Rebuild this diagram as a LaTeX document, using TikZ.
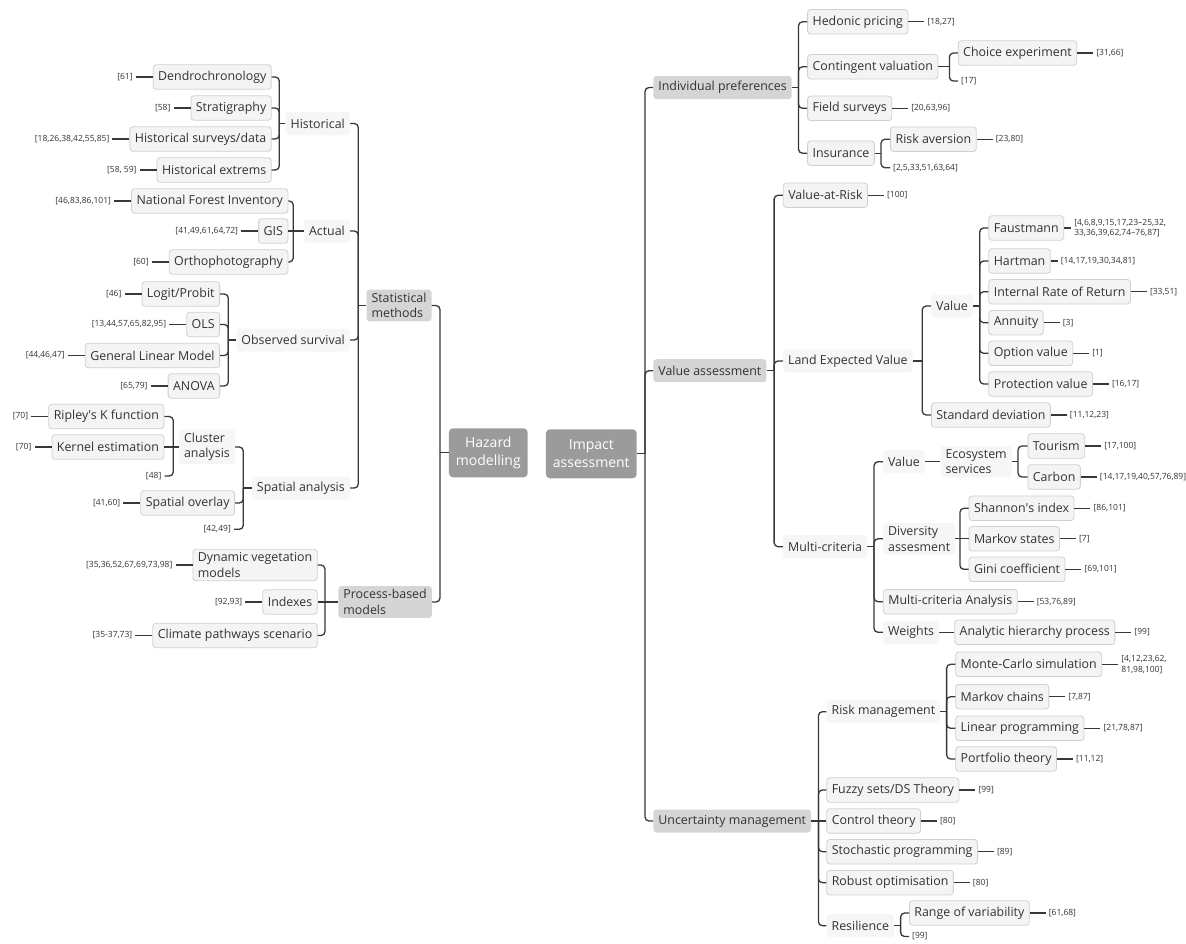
\documentclass[tikz,border=0pt]{standalone}
\usepackage{fontspec}
\setmainfont{Open Sans}
\usetikzlibrary{positioning}
\definecolor{inkgray}{HTML}{333333}
\definecolor{linegray}{HTML}{383838}
\definecolor{rootgray}{HTML}{9B9B9B}
\definecolor{maingray}{HTML}{D5D5D5}
\definecolor{softgray}{HTML}{F6F6F6}
\definecolor{leafgray}{HTML}{F4F4F4}
\definecolor{edgegray}{HTML}{D0D0D0}
\tikzset{
  root/.style={rounded corners=4pt, fill=rootgray, text=white, font=\fontsize{14}{18}\selectfont, align=center, inner xsep=7pt, minimum height=49pt},
  branch/.style={rounded corners=3pt, fill=maingray, text=inkgray, font=\fontsize{12.4}{15.5}\selectfont, align=left, inner xsep=5pt, minimum height=23pt},
  topic/.style={rounded corners=3pt, fill=softgray, text=inkgray, font=\fontsize{12.4}{15.5}\selectfont, align=left, inner xsep=5pt, minimum height=23pt},
  leaf/.style={rounded corners=3pt, draw=edgegray, line width=0.8pt, fill=leafgray, text=inkgray, font=\fontsize{12.4}{15.5}\selectfont, align=left, inner xsep=5pt, minimum height=24.5pt},
  cite/.style={text=inkgray, font=\fontsize{8.5}{10.6}\selectfont, align=left, inner xsep=3pt, inner ysep=1pt},
  link/.style={draw=linegray, line width=1.3pt, rounded corners=4pt},
}

\begin{document}
\begin{tikzpicture}[x=1pt, y=-1pt]
    \useasboundingbox (0,0) rectangle (1186,943);
    \clip (0,0) rectangle (1186,943);
    % Centre topics
    \node[root] (hazard) at (488.3, 452.8) {Hazard\\modelling};
    \node[root] (impact) at (591.3, 453.8) {Impact\\assessment};
    \coordinate (hazard-j) at (440, 452.8);
    \coordinate (impact-j) at (645, 453.8);

    % Hazard modelling side
    \node[branch, anchor=east] (stat) at (431.7, 305.5) {Statistical\\methods};
    \node[branch, anchor=east] (process) at (432, 602) {Process-based\\models};
    \coordinate (stat-j) at (358.3, 305.5);
    \coordinate (process-j) at (325, 602);

    \node[topic, anchor=east] (hist) at (350, 123.5) {Historical};
    \node[topic, anchor=east] (actual) at (350, 231) {Actual};
    \node[topic, anchor=east] (obs) at (350, 340) {Observed survival};
    \node[topic, anchor=east] (spatial) at (350, 488) {Spatial analysis};
    \coordinate (hist-j) at (279.3, 123.5);
    \coordinate (actual-j) at (293.3, 231);
    \coordinate (obs-j) at (228.3, 340);
    \coordinate (spatial-j) at (243.3, 488);

    \node[leaf, anchor=east] (dendro) at (271.7, 77) {Dendrochronology};
    \node[leaf, anchor=east] (strat) at (271.7, 108) {Stratigraphy};
    \node[leaf, anchor=east] (histsurv) at (271.7, 139) {Historical surveys/data};
    \node[leaf, anchor=east] (histext) at (271.7, 170) {Historical extrems};
    \node[leaf, anchor=east] (nfi) at (288.3, 201) {National Forest Inventory};
    \node[leaf, anchor=east] (gis) at (288.3, 231) {GIS};
    \node[leaf, anchor=east] (ortho) at (288.3, 262) {Orthophotography};
    \node[leaf, anchor=east] (logit) at (220, 294) {Logit/Probit};
    \node[leaf, anchor=east] (ols) at (220, 324.5) {OLS};
    \node[leaf, anchor=east] (glm) at (220, 355.5) {General Linear Model};
    \node[leaf, anchor=east] (anova) at (220, 386) {ANOVA};

    \node[topic, anchor=east] (cluster) at (235, 447) {Cluster\\analysis};
    \coordinate (cluster-j) at (173.3, 447);
    \node[leaf, anchor=east] (ripley) at (164.3, 416.5) {Ripley\textquotesingle s K function};
    \node[leaf, anchor=east] (kernel) at (164.3, 447) {Kernel estimation};
    \node[cite, anchor=east] (ref48) at (164.5, 476) {[48]};
    \node[leaf, anchor=east] (overlay) at (235, 503) {Spatial overlay};
    \node[cite, anchor=east] (ref4249) at (234, 529.3) {[42,49]};

    \node[leaf, anchor=east] (dvm) at (317.7, 565) {Dynamic vegetation\\models};
    \node[leaf, anchor=east] (indexes) at (317.7, 602) {Indexes};
    \node[leaf, anchor=east] (climate) at (317.7, 635.5) {Climate pathways scenario};

    % References, hazard side
    \foreach \nm/\rf in {dendro/{[61]}, strat/{[58]}, histsurv/{[18,26,38,42,55,85]}, histext/{[58, 59]},
        nfi/{[46,83,86,101]}, gis/{[41,49,61,64,72]}, ortho/{[60]}, logit/{[46]}, ols/{[13,44,57,65,82,95]},
        glm/{[44,46,47]}, anova/{[65,79]}, ripley/{[70]}, kernel/{[70]}, overlay/{[41,60]},
        dvm/{[35,36,52,67,69,73,98]}, indexes/{[92,93]}, climate/{[35-37,73]}}
    {
        \node[cite, left=17pt of \nm] (\nm-ref) {\rf};
        \draw[link] (\nm.west) -- (\nm-ref.east);
    }

    % Impact assessment side
    \node[branch, anchor=west] (indpref) at (653.2, 87.5) {Individual preferences};
    \node[branch, anchor=west] (valass) at (653.2, 370.7) {Value assessment};
    \node[branch, anchor=west] (uncert) at (653.2, 821) {Uncertainty management};
    \coordinate (indpref-j) at (798.5, 87.5);
    \coordinate (valass-j) at (774.1, 370.7);
    \coordinate (uncert-j) at (818.4, 821);

    \node[leaf, anchor=west] (hedonic) at (807.2, 21.8) {Hedonic pricing};
    \node[leaf, anchor=west] (contingent) at (807.2, 66.8) {Contingent valuation};
    \node[leaf, anchor=west] (field) at (807.2, 108.3) {Field surveys};
    \node[leaf, anchor=west] (insurance) at (807.2, 153.2) {Insurance};
    \coordinate (contingent-j) at (949.4, 66.8);
    \coordinate (insurance-j) at (881, 153.2);
    \node[leaf, anchor=west] (choice) at (957.8, 53) {Choice experiment};
    \node[cite, anchor=west] (ref17) at (958, 81) {[17]};
    \node[leaf, anchor=west] (riskav) at (890.2, 139.2) {Risk aversion};
    \node[cite, anchor=west] (ref2) at (890, 167.7) {[2,5,33,51,63,64]};

    \node[leaf, anchor=west] (var) at (782.9, 195.2) {Value-at-Risk};
    \node[topic, anchor=west] (lev) at (782.9, 361) {Land Expected Value};
    \node[topic, anchor=west] (multicrit) at (782.9, 546.7) {Multi-criteria};
    \coordinate (lev-j) at (922.2, 361);
    \coordinate (multicrit-j) at (874, 546.7);

    \node[topic, anchor=west] (levvalue) at (931, 306) {Value};
    \node[leaf, anchor=west] (stddev) at (931, 415) {Standard deviation};
    \coordinate (levvalue-j) at (979.7, 306);
    \node[leaf, anchor=west] (faust) at (988.4, 228) {Faustmann};
    \node[leaf, anchor=west] (hartman) at (988.4, 261) {Hartman};
    \node[leaf, anchor=west] (irr) at (988.4, 291.7) {Internal Rate of Return};
    \node[leaf, anchor=west] (annuity) at (988.4, 322.7) {Annuity};
    \node[leaf, anchor=west] (option) at (988.4, 353.3) {Option value};
    \node[leaf, anchor=west] (protect) at (988.4, 384) {Protection value};

    \node[topic, anchor=west] (mcvalue) at (882.9, 461.7) {Value};
    \node[topic, anchor=west] (ecosys) at (940.3, 461.7) {Ecosystem\\services};
    \coordinate (ecosys-j) at (1018, 461.7);
    \node[leaf, anchor=west] (tourism) at (1027.5, 446) {Tourism};
    \node[leaf, anchor=west] (carbon) at (1027.5, 477) {Carbon};
    \node[topic, anchor=west] (diversity) at (882.9, 538.8) {Diversity\\assesment};
    \coordinate (diversity-j) at (959.9, 538.8);
    \node[leaf, anchor=west] (shannon) at (968.6, 508.3) {Shannon\textquotesingle s index};
    \node[leaf, anchor=west] (markovst) at (968.6, 538.8) {Markov states};
    \node[leaf, anchor=west] (gini) at (968.6, 569.3) {Gini coefficient};
    \node[leaf, anchor=west] (mca) at (882.9, 601.7) {Multi-criteria Analysis};
    \node[topic, anchor=west] (weights) at (882.9, 632.3) {Weights};
    \node[leaf, anchor=west] (ahp) at (954.3, 632.3) {Analytic hierarchy process};

    \node[topic, anchor=west] (riskman) at (826.4, 711.7) {Risk management};
    \coordinate (riskman-j) at (946.6, 711.7);
    \node[leaf, anchor=west] (montecarlo) at (955.3, 664.3) {Monte-Carlo simulation};
    \node[leaf, anchor=west] (markovch) at (955.3, 696.7) {Markov chains};
    \node[leaf, anchor=west] (linprog) at (955.3, 728.3) {Linear programming};
    \node[leaf, anchor=west] (portfolio) at (955.3, 759) {Portfolio theory};
    \node[leaf, anchor=west] (fuzzy) at (826.4, 790) {Fuzzy sets/DS Theory};
    \node[leaf, anchor=west] (control) at (826.4, 821) {Control theory};
    \node[leaf, anchor=west] (stoch) at (826.4, 851.7) {Stochastic programming};
    \node[leaf, anchor=west] (robust) at (826.4, 882.7) {Robust optimisation};
    \node[topic, anchor=west] (resil) at (826.4, 925.7) {Resilience};
    \coordinate (resil-j) at (900.6, 925.7);
    \node[leaf, anchor=west] (range) at (909, 913) {Range of variability};
    \node[cite, anchor=west] (ref99b) at (909, 936.5) {[99]};

    % References, impact side
    \foreach \nm/\rf in {hedonic/{[18,27]}, choice/{[31,66]}, field/{[20,63,96]}, riskav/{[23,80]},
        var/{[100]}, irr/{[33,51]}, annuity/{[3]}, option/{[1]}, protect/{[16,17]}, stddev/{[11,12,23]},
        tourism/{[17,100]}, carbon/{[14,17,19,40,57,76,89]}, shannon/{[86,101]}, markovst/{[7]},
        gini/{[69,101]}, mca/{[53,76,89]}, ahp/{[99]}, markovch/{[7,87]}, linprog/{[21,78,87]},
        portfolio/{[11,12]}, fuzzy/{[99]}, control/{[80]}, stoch/{[89]}, robust/{[80]}, range/{[61,68]}}
    {
        \node[cite, right=16pt of \nm] (\nm-ref) {\rf};
        \draw[link] (\nm.east) -- (\nm-ref.west);
    }
    \node[cite, right=7pt of faust] (faust-ref) {[4,6,8,9,15,17,23–25,32,\\33,36,39,62,74–76,87]};
    \node[cite, right=7pt of hartman] (hartman-ref) {[14,17,19,30,34,81]};
    \node[cite, right=16pt of montecarlo] (montecarlo-ref) {[4,12,23,62,\\81,98,100]};
    \foreach \nm in {faust, hartman, montecarlo} \draw[link] (\nm.east) -- (\nm-ref.west);

    % Connectors, hazard side
    \draw[link] (hazard.west) -- (hazard-j);
    \foreach \ch in {stat, process} \draw[link] (hazard-j) |- (\ch.east);
    \draw[link] (stat.west) -- (stat-j);
    \foreach \ch in {hist, actual, obs, spatial} \draw[link] (stat-j) |- (\ch.east);
    \draw[link] (hist.west) -- (hist-j);
    \foreach \ch in {dendro, strat, histsurv, histext} \draw[link] (hist-j) |- (\ch.east);
    \draw[link] (actual.west) -- (actual-j) -- (gis.east);
    \foreach \ch in {nfi, ortho} \draw[link] (actual-j) |- (\ch.east);
    \draw[link] (obs.west) -- (obs-j);
    \foreach \ch in {logit, ols, glm, anova} \draw[link] (obs-j) |- (\ch.east);
    \draw[link] (spatial.west) -- (spatial-j);
    \foreach \ch in {cluster, overlay, ref4249} \draw[link] (spatial-j) |- (\ch.east);
    \draw[link] (cluster.west) -- (cluster-j) -- (kernel.east);
    \foreach \ch in {ripley, ref48} \draw[link] (cluster-j) |- (\ch.east);
    \draw[link] (process.west) -- (process-j) -- (indexes.east);
    \foreach \ch in {dvm, climate} \draw[link] (process-j) |- (\ch.east);

    % Connectors, impact side
    \draw[link] (impact.east) -- (impact-j);
    \foreach \ch in {indpref, valass, uncert} \draw[link] (impact-j) |- (\ch.west);
    \draw[link] (indpref.east) -- (indpref-j);
    \foreach \ch in {hedonic, contingent, field, insurance} \draw[link] (indpref-j) |- (\ch.west);
    \draw[link] (contingent.east) -- (contingent-j);
    \foreach \ch in {choice, ref17} \draw[link] (contingent-j) |- (\ch.west);
    \draw[link] (insurance.east) -- (insurance-j);
    \foreach \ch in {riskav, ref2} \draw[link] (insurance-j) |- (\ch.west);
    \draw[link] (valass.east) -- (valass-j);
    \foreach \ch in {var, lev, multicrit} \draw[link] (valass-j) |- (\ch.west);
    \draw[link] (lev.east) -- (lev-j);
    \foreach \ch in {levvalue, stddev} \draw[link] (lev-j) |- (\ch.west);
    \draw[link] (levvalue.east) -- (levvalue-j);
    \foreach \ch in {faust, hartman, irr, annuity, option, protect} \draw[link] (levvalue-j) |- (\ch.west);
    \draw[link] (multicrit.east) -- (multicrit-j);
    \foreach \ch in {mcvalue, diversity, mca, weights} \draw[link] (multicrit-j) |- (\ch.west);
    \draw[link] (mcvalue.east) -- (ecosys.west);
    \draw[link] (ecosys.east) -- (ecosys-j);
    \foreach \ch in {tourism, carbon} \draw[link] (ecosys-j) |- (\ch.west);
    \draw[link] (diversity.east) -- (diversity-j) -- (markovst.west);
    \foreach \ch in {shannon, gini} \draw[link] (diversity-j) |- (\ch.west);
    \draw[link] (weights.east) -- (ahp.west);
    \draw[link] (uncert.east) -- (uncert-j) -- (control.west);
    \foreach \ch in {riskman, fuzzy, stoch, robust, resil} \draw[link] (uncert-j) |- (\ch.west);
    \draw[link] (riskman.east) -- (riskman-j);
    \foreach \ch in {montecarlo, markovch, linprog, portfolio} \draw[link] (riskman-j) |- (\ch.west);
    \draw[link] (resil.east) -- (resil-j);
    \foreach \ch in {range, ref99b} \draw[link] (resil-j) |- (\ch.west);
\end{tikzpicture}
\end{document}
